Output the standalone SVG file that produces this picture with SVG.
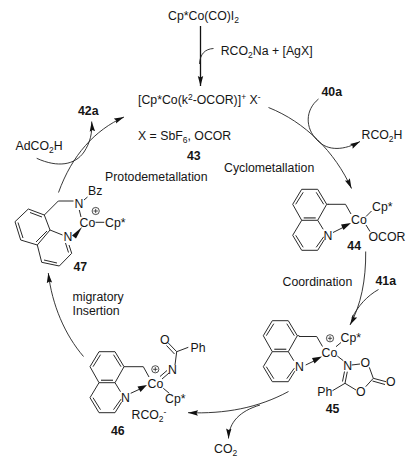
<svg xmlns="http://www.w3.org/2000/svg" width="419" height="462" viewBox="0 0 419 462">
<style>
text{font-family:"Liberation Sans",Arial,sans-serif;font-size:12.300px;fill:#151515}
.b{font-weight:bold}
.s{font-size:8.500px}
.l{fill:none;stroke:#2a2a2a;stroke-width:1}
.c{fill:none;stroke:#222;stroke-width:.9}
.a{marker-end:url(#ah)}
.p{fill:none;stroke:#222;stroke-width:.8}
.w{fill:#111;stroke:none}
</style>
<defs>
<marker id="ah" markerUnits="userSpaceOnUse" markerWidth="12" markerHeight="8" refX="10" refY="3.500" orient="auto"><path d="M0 .8L10 3.500L0 6.200L1.500 3.500Z" fill="#111"/></marker>
<g id="plus"><circle r="3.600" class="p"/><path d="M-2.200 0H2.200M0 -2.200V2.200" class="p"/></g>
<g id="quin"><path class="l" d="M0 0H16L25 15L16 31H0L-9 15ZM0 31L-9 46L0 61H16L22.500 50.500M16 31L21.500 40M25 15H27M-6 15L1.500 3M14.500 3L22 15M-6 46L1.500 58M22 47.500L14.500 58"/><path d="M2 28.600H14" stroke="#555" stroke-width="1.400"/></g>
</defs>
<g id="connectors">
<path d="M200.500 26V86" fill="none" stroke="#111" stroke-width="1.300" marker-end="url(#ah)"/>
<path class="c" d="M213.500 48.500C205 49 200 54 199.500 64"/>
<path class="c a" d="M268.500 107.500C305 122 335 152 351.500 188.500"/>
<path class="c a" d="M318.500 99C305 110 305 128 317 140C328 152 345 150 360 141.500"/>
<path class="c a" d="M365.700 251.500C366 280 361 305 350 325"/>
<path class="c" d="M378.500 289.500C367 296 358 306 352 318"/>
<path class="c a" d="M288.500 391.500C258 408 225 414 188 412.700"/>
<path class="c a" d="M260 405C240 411 229 422 228.500 438.500"/>
<path class="c a" d="M83.500 356.500C65 335 52 305 48.300 273"/>
<path class="c a" d="M58.500 192.500C72 155 95 130 124 117"/>
<path class="c a" d="M36.700 158.300C58 168 75 165 84 152C90 143 92.500 133 91.700 121.500"/>
</g>
<g id="n-top"><text x="168" y="20">Cp*Co(CO)I<tspan class="s" dy="3">2</tspan></text></g>
<g id="reagent-top"><text x="220.700" y="55">RCO<tspan class="s" dy="3">2</tspan><tspan dy="-3">Na + [AgX]</tspan></text></g>
<g id="n43">
<text x="138" y="104">[Cp*Co(k<tspan class="s" dy="-4">2</tspan><tspan dy="4">-OCOR)]</tspan><tspan class="s" dy="-4">+</tspan><tspan dy="4"> X</tspan><tspan class="s" dy="-4">-</tspan></text>
<text x="138" y="140">X = SbF<tspan class="s" dy="3">6</tspan><tspan dy="-3">, OCOR</tspan></text>
<text class="b" x="187" y="160">43</text>
</g>
<g id="labels">
<text x="321.500" y="96" class="b">40a</text>
<text x="361.500" y="139">RCO<tspan class="s" dy="3">2</tspan><tspan dy="-3">H</tspan></text>
<text x="224" y="172">Cyclometallation</text>
<text x="105" y="180.500">Protodemetallation</text>
<text x="15.500" y="150">AdCO<tspan class="s" dy="3">2</tspan><tspan dy="-3">H</tspan></text>
<text x="78" y="115" class="b">42a</text>
<text x="282.500" y="286">Coordination</text>
<text x="375.500" y="284.500" class="b">41a</text>
<text x="72.500" y="301">migratory</text>
<text x="72.500" y="315">Insertion</text>
<text x="214" y="452.500">CO<tspan class="s" dy="3">2</tspan></text>
</g>
<g id="n44">
<use href="#quin" x="301.700" y="189.300"/>
<path class="l" d="M328 204.300H345.500L351 214M366 216.500L371.500 211M366 225L370 231.500M333 232.500L343 227.500"/>
<path class="w" d="M341 224.500L351 223L343.500 230Z"/>
<text x="351" y="224.300">Co</text><text x="372" y="211">Cp*</text><text x="368.500" y="241">OCOR</text><text x="323.500" y="240">N</text>
<text class="b" x="347.300" y="249.500">44</text>
</g>
<g id="n45">
<use href="#quin" x="272.300" y="320.700"/>
<path class="l" d="M299 336.500H316.700L322.500 346.500M336 346.700L341 342.500M337.300 356L343.300 360.700M351.700 365L360 364M369.300 367.300L373.300 378.300L386 381.700M372.500 381L385 384.500M373.300 378.300L365.700 386.700M356 390L345 383.300L347.300 371.700M342.500 381.500L344.500 371.500M345 383.300L332.500 390.700M305.700 365L314 361"/>
<path class="w" d="M312 358L322 356.500L314.500 363.500Z"/>
<use href="#plus" x="330" y="338.300"/>
<text x="321.500" y="356.700">Co</text><text x="340.500" y="342">Cp*</text><text x="295" y="371">N</text>
<text x="343.300" y="369.500">N</text><text x="360.500" y="367">O</text><text x="386" y="386">O</text><text x="356" y="396">O</text><text x="317.300" y="396">Ph</text>
<text class="b" x="325.700" y="413">45</text>
</g>
<g id="n46">
<use href="#quin" x="99" y="351.700"/>
<path class="l" d="M126 366.700H143.300L149 377M163.300 388.300L169.300 393.300M160 376.500L167 370.500M162 379L169 373M175 365L176.700 351.700L188.300 347.300M176.700 351.700L168.300 343M174.500 354L166.500 345.500M130.700 393.300L140 389"/>
<path class="w" d="M137.500 386.500L147 385L140.500 392Z"/>
<use href="#plus" x="155.300" y="369.300"/>
<text x="147.500" y="387.500">Co</text><text x="121" y="402">N</text><text x="168" y="374">N</text><text x="160" y="344">O</text><text x="190.500" y="352">Ph</text><text x="165" y="403">Cp*</text>
<text x="131.500" y="418.500">RCO<tspan class="s" dy="3">2</tspan><tspan class="s" dy="-7">-</tspan></text>
<text class="b" x="111" y="434.500">46</text>
</g>
<g id="n47">
<path class="l" d="M28.300 209L44.300 215L50 230L37.300 245L20.700 240L15 221.700ZM37.300 245L41.700 262.300L59.300 266L71.700 253.300L69 245M50 230L62.500 235M30 212.500L42 217M18 222.500L23 238M47 231L36 242M44 260L57 263M68.500 252.500L65.500 243M44.300 215L58.300 201H73.500M79.300 210L81 217M84 200L87.500 197"/>
<path class="w" d="M72 235.500L82 227L76 238.500Z"/>
<use href="#plus" x="95.700" y="211"/>
<path class="l" d="M95.500 222.300H104.300"/>
<text x="79.500" y="227">Co</text><text x="105" y="227">Cp*</text><text x="74.500" y="208">N</text><text x="88" y="194.500">Bz</text><text x="63.500" y="241">N</text>
<text class="b" x="73.500" y="271">47</text>
</g>
</svg>
